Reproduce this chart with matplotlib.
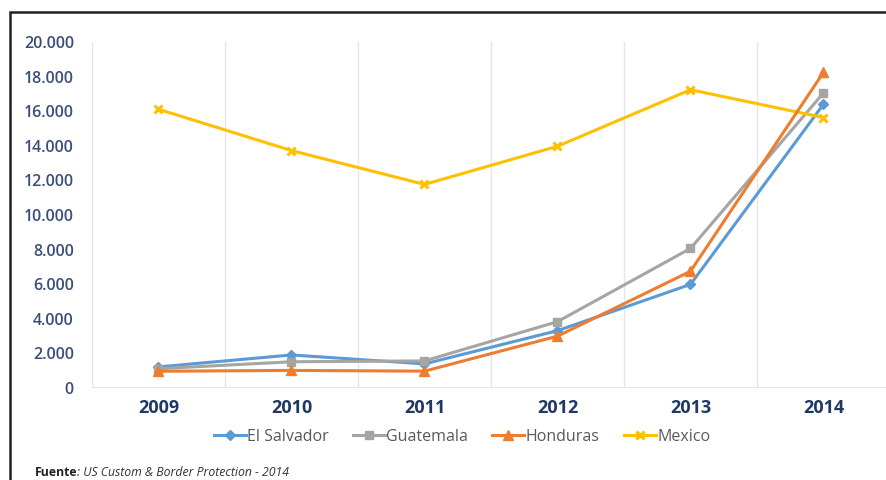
import matplotlib.pyplot as plt
from matplotlib.patches import Rectangle
from matplotlib.ticker import FuncFormatter

# datos
anios = ["2009", "2010", "2011", "2012", "2013", "2014"]
el_salvador = [1221, 1910, 1394, 3314, 5990, 16404]
guatemala = [1115, 1517, 1565, 3835, 8068, 17057]
honduras = [968, 1017, 974, 2997, 6747, 18244]
mexico = [16114, 13724, 11768, 13974, 17240, 15634]

W, H = 887, 480
fig = plt.figure(figsize=(W / 100, H / 100), dpi=100)
fig.patch.set_facecolor("white")

# marco negro del recuadro
fig.patches.append(Rectangle((10 / W, -0.1), 1.2, (H - 12) / H + 0.1,
                             transform=fig.transFigure, fill=False,
                             edgecolor="#222222", linewidth=1.8))

ax = fig.add_axes([92 / W, (H - 388) / H, (890 - 92) / W, (388 - 42) / H])
x = list(range(len(anios)))

ax.plot(x, el_salvador, color="#5B9BD5", linewidth=2.2, marker="D", markersize=5, label="El Salvador", zorder=3)
ax.plot(x, guatemala, color="#A5A5A5", linewidth=2.2, marker="s", markersize=6, label="Guatemala", zorder=3)
ax.plot(x, honduras, color="#ED7D31", linewidth=2.2, marker="^", markersize=6.5, label="Honduras", zorder=4)
ax.plot(x, mexico, color="#FFC000", linewidth=2.2, marker="x", markersize=6, markeredgewidth=2.2, label="Mexico", zorder=3)

ax.set_xlim(-0.5, 5.5)
ax.set_ylim(0, 20000)
ax.set_yticks(range(0, 20001, 2000))
ax.yaxis.set_major_formatter(FuncFormatter(lambda v, p: f"{int(v):,}".replace(",", ".")))
ax.set_xticks(x)
ax.set_xticklabels(anios)

# lineas verticales entre categorias
for g in [i - 0.5 for i in range(7)]:
    ax.axvline(g, color="#E6E6E6", linewidth=1, zorder=0)
ax.axhline(0, color="#E0E0E0", linewidth=1.2, zorder=0)

for s in ax.spines.values():
    s.set_visible(False)
ax.tick_params(length=0)
ax.tick_params(axis="y", pad=13, labelsize=11.5, labelcolor="#3B4E7A")
ax.tick_params(axis="x", pad=8, labelsize=13, labelcolor="#1F3864")
for t in ax.get_yticklabels():
    t.set_fontfamily("Open Sans")
    t.set_fontweight("semibold")
for t in ax.get_xticklabels():
    t.set_fontfamily("Open Sans")
    t.set_fontweight("bold")

leg = fig.legend(loc="center", bbox_to_anchor=(462 / W, (H - 437) / H), ncol=4,
                 frameon=False, handlelength=2.0, handletextpad=0.1, columnspacing=1.5,
                 prop={"family": "Open Sans", "size": 11.5})
for t in leg.get_texts():
    t.set_color("#595959")

t1 = fig.text(35 / W, (H - 472) / H, "Fuente", fontsize=8.8, fontweight="bold", family="Open Sans",
              color="#222222", va="center")
fig.canvas.draw()
bb = t1.get_window_extent()
fig.text(bb.x1 / W, (H - 472) / H, ": US Custom & Border Protection - 2014", fontsize=8.8,
         family="Open Sans", color="#333333", va="center", style="italic")

fig.savefig("out.png", dpi=100)
